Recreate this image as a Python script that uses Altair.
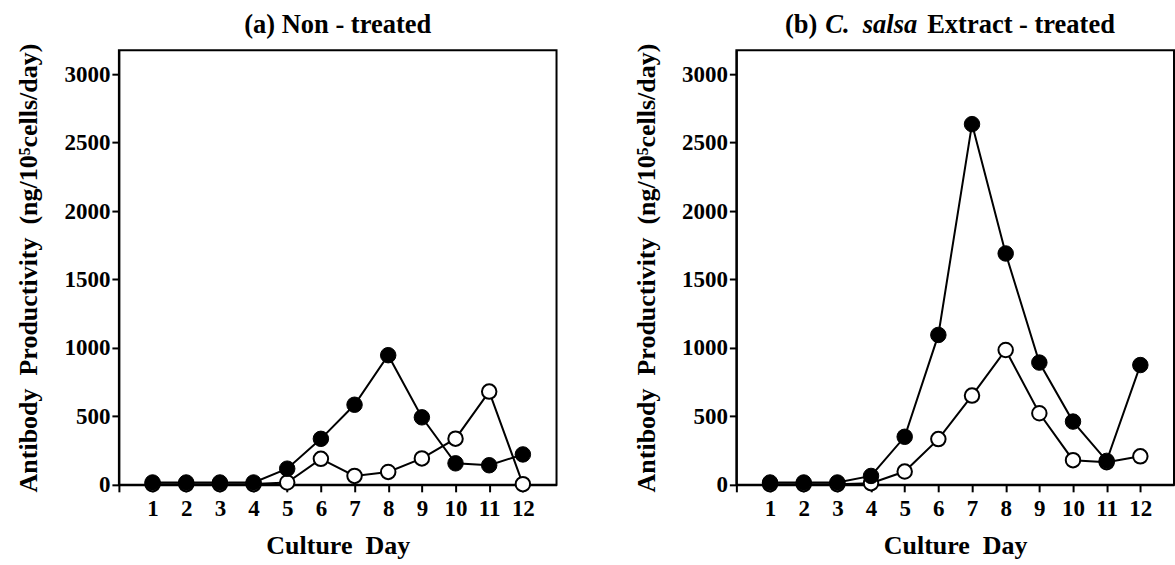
import altair as alt
import pandas as pd

days = list(range(1, 13))
a_filled = [17, 17, 17, 17, 118, 336, 585, 947, 493, 157, 143, 222]
a_open = [5, 5, 5, 5, 17, 190, 65, 94, 193, 337, 681, 5]
b_filled = [17, 17, 17, 65, 351, 1095, 2635, 1690, 893, 462, 175, 875]
b_open = [5, 5, 5, 12, 97, 334, 652, 985, 523, 180, 165, 208]
y_ticks = [0, 500, 1000, 1500, 2000, 2500, 3000]
x_ticks = list(range(0, 13))
title_a = ["(a) Non - treated"]
title_b = ["(b)", "C.\u00a0 salsa", "Extract - treated"]
x_title = "Culture\u00a0 Day"
y_title = "Antibody\u00a0 Productivity\u00a0 (ng/10\u2075cells/day)"

FONT = "Liberation Serif"
W, H = 438, 435
TFS = 26.5


def panel(filled, opened, title_layers):
    df = pd.DataFrame({
        "day": days + days,
        "value": filled + opened,
        "series": ["filled"] * 12 + ["open"] * 12,
    })
    base = alt.Chart(df).encode(
        x=alt.X("day:Q", scale=alt.Scale(domain=[0, 13], nice=False, zero=False),
                axis=alt.Axis(values=x_ticks, labelExpr="datum.value == 0 ? '' : datum.label",
                              title=x_title, titlePadding=12, labelPadding=6)),
        y=alt.Y("value:Q", scale=alt.Scale(domain=[0, 3175], nice=False),
                axis=alt.Axis(values=y_ticks, format="d", title=y_title, titlePadding=22,
                              labelPadding=2)),
    )
    lines = base.mark_line(color="black", strokeWidth=2).encode(detail="series:N")
    open_pts = base.transform_filter("datum.series == 'open'").mark_point(
        shape="circle", filled=True, fill="white", stroke="black", strokeWidth=2, size=210, opacity=1)
    filled_pts = base.transform_filter("datum.series == 'filled'").mark_point(
        shape="circle", filled=True, fill="black", stroke="black", strokeWidth=1, size=240, opacity=1)
    return alt.layer(lines, open_pts, filled_pts, *title_layers).properties(width=W, height=H)


def text_layer(txt, xpos, align, italic=False):
    return alt.Chart(pd.DataFrame({"t": [txt]})).mark_text(
        font=FONT, fontSize=TFS, fontWeight="bold", fontStyle="italic" if italic else "normal",
        align=align, baseline="alphabetic", color="black"
    ).encode(text="t:N", x=alt.value(xpos), y=alt.value(-17))


pa = panel(a_filled, a_open, [text_layer(title_a[0], W / 2, "center")])
pb = panel(b_filled, b_open, [
    text_layer(title_b[0], 81, "right"),
    text_layer(title_b[1], 89, "left", italic=True),
    text_layer(title_b[2], 191, "left"),
])

chart = alt.hconcat(pa, pb, spacing=75).properties(
    padding={"left": 15, "top": 11, "right": 0, "bottom": 0},
    background="white",
).configure_view(stroke="black", strokeWidth=2).configure_axis(
    grid=False, domainColor="black", domainWidth=2, tickColor="black", tickWidth=2, tickSize=7,
    labelColor="black", labelFont=FONT, labelFontWeight="bold", labelFontSize=23,
    titleColor="black", titleFont=FONT, titleFontWeight="bold", titleFontSize=26,
)

chart.save("out.html", embed_options={"renderer": "svg", "actions": False})
